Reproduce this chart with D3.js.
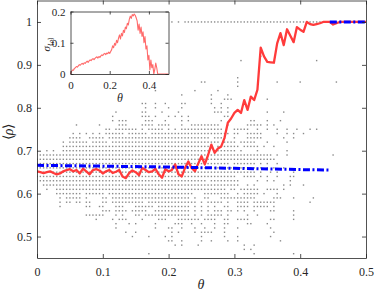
<!DOCTYPE html>
<html><head><meta charset="utf-8">
<script src="https://cdn.jsdelivr.net/npm/d3@7"></script>
<style>body{margin:0;background:#fff}svg text{font-family:"Liberation Serif","Times New Roman",Times,serif;fill:#262626}</style>
</head><body>
<script>
// ---------- data ----------
const thetaStep = 0.005;
const meanRho = [
 .652,.650,.648,.650,.652,.648,.645,.647,.652,.655,
 .657,.652,.655,.647,.658,.652,.645,.655,.657,.654,
 .647,.652,.655,.648,.651,.655,.640,.636,.648,.654,
 .650,.643,.660,.655,.650,.652,.658,.645,.637,.657,
 .652,.655,.668,.645,.640,.660,.675,.660,.652,.670,
 .687,.668,.690,.714,.695,.705,.710,.730,.765,.775,
 .788,.795,.788,.818,.795,.826,.818,.842,.940,.920,
 .907,.906,.905,.950,.974,.946,.983,.968,.953,.988,
 .982,.977,1.0,.995,.993,.995,.997,1.0,1.0,1.0,
 .994,.997,1,1,1,1,1,1,1,1,1];
const sigmaRho = [
 0,.008,.013,.012,.018,.020,.024,.022,.026,.030,
 .028,.032,.034,.031,.036,.034,.038,.041,.037,.042,
 .045,.043,.047,.049,.046,.050,.053,.055,.051,.056,
 .053,.058,.061,.059,.064,.066,.062,.067,.065,.070,
 .066,.072,.078,.090,.084,.098,.092,.108,.100,.115,
 .125,.112,.130,.122,.140,.133,.150,.145,.162,.157,
 .175,.185,.178,.190,.186,.192,.188,.180,.170,.140,
 .160,.130,.150,.120,.135,.100,.120,.080,.090,.045,
 .060,.013,.045,.020,.030,0,.015,.035,.020,0,
 0,0,0,0,0,0,0,0,0,0,0];
const predTheta1 = [0, 0.1, 0.2, 0.3, 0.4, 0.445];
const predRho1   = [0.666, 0.664, 0.662, 0.659, 0.656, 0.655];
const predTheta2 = [0.445, 0.5];
const predRho2   = [1.0, 1.0];
// scatter: rho value, then theta indices (theta = k*0.005) where a realization sits
const scatterRho = [1.00,.92,.91,.87,.86,.85,.84,.83,.82,.81,.80,.79,.78,.77,.76,.75,.74,.73,.72,.71,.70,.69,.68,.67,.66,.65,.64,.63,.62,.61,.60,.59,.58,.57,.56,.55,.54,.53,.52,.51,.50,.49,.48,.47,.46];
const scatterCols = [
 "41,43,45-100",
 "68",
 "62,85",
 "61",
 "50,51,61,73,80,91",
 "61",
 "36,48,55",
 "44,53,58",
 "53,57,58,59,70",
 "32,33,36,39,44,45,53,56",
 "33,36,40,44,54,56,58",
 "24,32,33,38,43,54,55,56,58,70,75",
 "23,32,33,34,36,40,42,44,46,57,58",
 "23,25,26,27,33,34,35,39,44,46,56,65,66,70,74",
 "12,19,25,26,27,32-35,37-40,44,47-55,58,64-68,70,72",
 "21,22,24-30,32,34-38,40,42,44-56,60-64,67,70,73,76,79,83,85",
 "11,13,15,17,19,21-26,28-33,35-58,60,61,64-68,73,76,78,81",
 "10-13,16-20,22-52,54-57,60,64-68,75,78",
 "8,10-15,17-21,23-55,57-60,62-66,70,76",
 "8-52,55-61,63-67,69,72",
 "3,5,8-52,54-60,62,67,76",
 "1-71,73,76,90",
 "0-72",
 "0-58,60-66,68,70,73",
 "0-66,68,70,72,75",
 "0-66,68,71,73,78",
 "0-60,63-66,68,70,73,77,78",
 "1-51,53-61,67,70,72,77",
 "2-61,64,66,75,77,81",
 "3,6-57,59,60,62-67,70-73,75",
 "6-13,15-20,22-47,51-58,61,63-67,69,73",
 "7,9-13,15,20,21,23-46,48,51,52,56-66,72-74,78,84",
 "7,9,10,12,13,15,16,20,21,23-32,34-48,50,52-56,58,61-64,66-72,83",
 "7,15,16,19,20,24-26,30-35,37-46,48,50,52,54,57,58,61-64,66-70,72",
 "20-22,24-27,29-33,36-46,48,50,52,54-56,58,59,61,63,66,71,72,78",
 "15-20,24,26,30,31,33-46,48,50,52-56,58,64,67,78",
 "18,23,25-27,32,37-39,43-49,51-54,57,58,61-64,71,72,78",
 "24,28,30,36,42-44,47,50,54,57,58,64,65,70",
 "24,36,40,41,44,48,51,54,57,61,71",
 "27,30,41,43,48,50-53,57,72",
 "29,34,39,41,50,57,61,71",
 "40,41,44,50,53,58,61,74",
 "42,44,49,63,66",
 "63,65",
 "34,66,78"];
const xTicks = [0, 0.1, 0.2, 0.3, 0.4, 0.5];
const yTicks = [0.5, 0.6, 0.7, 0.8, 0.9, 1];
const insetXTicks = [0, 0.2, 0.4];
const insetYTicks = [0, 0.1, 0.2];

// ---------- drawing ----------
const W = 374, H = 291;
const FONT = '"Liberation Serif","Times New Roman",Times,serif';
const svg = d3.select("body").append("svg").attr("width", W).attr("height", H);
svg.append("rect").attr("width", W).attr("height", H).attr("fill", "#fff");
const AX = "#262626";
const fmt = d => d === 0 ? "0" : d === 1 ? "1" : String(d);

const x = d3.scaleLinear().domain([0, 0.5]).range([37, 366]);
const y = d3.scaleLinear().domain([0.45, 1.05]).range([258, 0.5]);

svg.append("defs").append("clipPath").attr("id", "clipMain")
  .append("rect").attr("x", 37).attr("y", 0.5).attr("width", 329).attr("height", 257.5);

const pts = [];
scatterRho.forEach((r, i) => {
  scatterCols[i].split(",").forEach(s => {
    const p = s.split("-").map(Number);
    const a = p[0], b = p.length > 1 ? p[1] : p[0];
    for (let k = a; k <= b; k++) pts.push([k * thetaStep, r]);
  });
});
const gMain = svg.append("g").attr("clip-path", "url(#clipMain)");
gMain.append("g").selectAll("rect").data(pts).join("rect")
  .attr("x", d => x(d[0]) - 0.7).attr("y", d => y(d[1]) - 0.7)
  .attr("width", 1.4).attr("height", 1.4).attr("fill", "#8a8a8a");

const meanData = meanRho.map((v, k) => [k * thetaStep, v]);
gMain.append("path").datum(meanData)
  .attr("d", d3.line().x(d => x(d[0])).y(d => y(d[1])))
  .attr("fill", "none").attr("stroke", "#ff3b3b").attr("stroke-width", 2.3)
  .attr("stroke-linejoin", "round");

[[predTheta1, predRho1], [predTheta2, predRho2]].forEach(([tt, rr]) => {
  gMain.append("path").datum(tt.map((t, i) => [t, rr[i]]))
    .attr("d", d3.line().x(d => x(d[0])).y(d => y(d[1])))
    .attr("fill", "none").attr("stroke", "#0000ff").attr("stroke-width", 3)
    .attr("stroke-dasharray", "7,2.5,2,2.5");
});

function styleAxis(g, fs) {
  g.attr("font-family", FONT);
  g.selectAll("path.domain").attr("stroke", AX).attr("stroke-width", 0.8);
  g.selectAll(".tick line").attr("stroke", AX).attr("stroke-width", 0.8);
  g.selectAll(".tick text").attr("fill", AX).style("font-size", fs + "px").style("font-family", FONT);
}
const TS = 4;
styleAxis(svg.append("g").attr("transform", "translate(0,258)")
  .call(d3.axisBottom(x).tickValues(xTicks).tickFormat(fmt).tickSizeInner(-TS).tickSizeOuter(0).tickPadding(9)), 12);
styleAxis(svg.append("g").attr("transform", "translate(0,0.5)")
  .call(d3.axisTop(x).tickValues(xTicks).tickFormat("").tickSizeInner(-TS).tickSizeOuter(0)), 12);
styleAxis(svg.append("g").attr("transform", "translate(37,0)")
  .call(d3.axisLeft(y).tickValues(yTicks).tickFormat(fmt).tickSizeInner(-TS).tickSizeOuter(0).tickPadding(5)), 12);
styleAxis(svg.append("g").attr("transform", "translate(366,0)")
  .call(d3.axisRight(y).tickValues(yTicks).tickFormat("").tickSizeInner(-TS).tickSizeOuter(0)), 12);

svg.append("text").attr("x", 201).attr("y", 289).attr("text-anchor", "middle")
  .style("font-size", "14px").style("font-style", "italic").text("θ");
svg.append("text").attr("transform", "translate(13,132) rotate(-90)").attr("text-anchor", "middle")
  .style("font-size", "14px")
  .call(t => { t.append("tspan").text("⟨"); t.append("tspan").style("font-style", "italic").text("ρ"); t.append("tspan").text("⟩"); });

// ---------- inset ----------
const ix = d3.scaleLinear().domain([0, 0.5]).range([70.5, 168.5]);
const iy = d3.scaleLinear().domain([0, 0.2]).range([74, 11.5]);
svg.append("rect").attr("x", 70.5).attr("y", 11.5).attr("width", 98).attr("height", 62.5).attr("fill", "#fff");
svg.append("path").datum(sigmaRho.map((v, k) => [k * thetaStep, v]))
  .attr("d", d3.line().x(d => ix(d[0])).y(d => iy(d[1])))
  .attr("fill", "none").attr("stroke", "#ff6a6a").attr("stroke-width", 1.1).attr("stroke-linejoin", "round");
const ITS = 3;
styleAxis(svg.append("g").attr("transform", "translate(0,74)")
  .call(d3.axisBottom(ix).tickValues(insetXTicks).tickFormat(fmt).tickSizeInner(-ITS).tickSizeOuter(0).tickPadding(7)), 11);
styleAxis(svg.append("g").attr("transform", "translate(0,11.5)")
  .call(d3.axisTop(ix).tickValues(insetXTicks).tickFormat("").tickSizeInner(-ITS).tickSizeOuter(0)), 11);
styleAxis(svg.append("g").attr("transform", "translate(70.5,0)")
  .call(d3.axisLeft(iy).tickValues(insetYTicks).tickFormat(fmt).tickSizeInner(-ITS).tickSizeOuter(0).tickPadding(5)), 11);
styleAxis(svg.append("g").attr("transform", "translate(168.5,0)")
  .call(d3.axisRight(iy).tickValues(insetYTicks).tickFormat("").tickSizeInner(-ITS).tickSizeOuter(0)), 11);
svg.append("text").attr("x", 120).attr("y", 102).attr("text-anchor", "middle")
  .style("font-size", "12px").style("font-style", "italic").text("θ");
svg.append("text").attr("transform", "translate(50,44) rotate(-90)").attr("text-anchor", "middle")
  .style("font-size", "11px")
  .call(t => {
    t.append("tspan").style("font-style", "italic").text("σ");
    t.append("tspan").attr("dy", 3).style("font-size", "7px").text("⟨");
    t.append("tspan").style("font-size", "7px").style("font-style", "italic").text("ρ");
    t.append("tspan").style("font-size", "7px").text("⟩");
  });
</script>
</body></html>
